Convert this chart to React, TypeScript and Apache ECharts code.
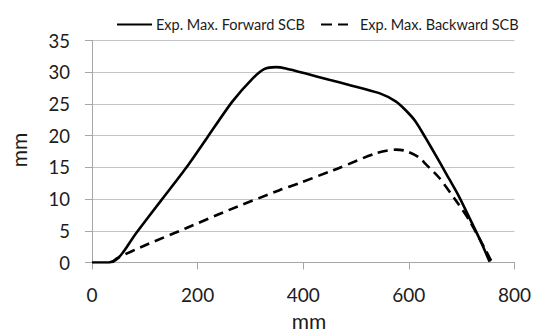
import { useEffect, useRef } from "react";
import * as echarts from "echarts";

// Forward SCB: lateral displacement (mm) along the specimen length (mm)
const forwardX = [0, 20, 32, 40, 48, 56, 64, 75, 87, 131, 178, 219, 266, 304, 326, 348, 367, 405, 449, 487, 544, 575, 594, 613, 632, 651, 670, 695, 726, 739, 753];
const forwardY = [0, 0, 0, 0.2, 0.6, 1.3, 2.2, 3.6, 5.0, 9.8, 14.9, 19.8, 25.4, 29.0, 30.5, 30.8, 30.6, 29.8, 28.8, 28.0, 26.7, 25.4, 24.0, 22.2, 19.6, 16.9, 14.1, 10.4, 5.1, 2.8, 0.1];

// Backward SCB
const backwardX = [38, 48, 103, 178, 260, 355, 392, 449, 468, 537, 575, 594, 619, 632, 657, 688, 714, 745, 755, 758];
const backwardY = [0, 0.7, 2.8, 5.4, 8.3, 11.4, 12.5, 14.3, 14.9, 17.2, 17.8, 17.6, 16.6, 15.5, 13.4, 9.9, 6.7, 2.0, 0.4, 0];

const seriesNames = ["Exp. Max. Forward SCB", "Exp. Max. Backward SCB"];
const xAxisTitle = "mm";
const yAxisTitle = "mm";

const FONT = "Lato, 'Open Sans', sans-serif";
const AXIS_GRAY = "#a6a6a6";
const GRID_GRAY = "#c4c4c4";
const TEXT = "#1c1c1c";

const pairs = (xs: number[], ys: number[]) => xs.map((x, i) => [x, ys[i]]);

export default function App() {
  const ref = useRef<HTMLDivElement>(null);

  useEffect(() => {
    const chart = echarts.init(ref.current!, null, { renderer: "svg" });
    chart.setOption({
      animation: false,
      backgroundColor: "#ffffff",
      grid: { left: 92, right: 18, top: 40.5, bottom: 68.5 },
      legend: {
        left: 111,
        top: 12,
        itemWidth: 35,
        itemHeight: 12,
        itemGap: 15,
        // line-only legend keys: hide the marker symbol
        itemStyle: { color: "rgba(0,0,0,0)", borderWidth: 0, opacity: 0 },
        textStyle: { fontFamily: FONT, fontSize: 14.5, color: TEXT, padding: [0, 0, 0, -1] },
        data: [
          { name: seriesNames[0] },
          { name: seriesNames[1], lineStyle: { type: [11, 6, 10, 40] } },
        ],
      },
      xAxis: {
        type: "value",
        min: 0,
        max: 800,
        interval: 200,
        axisLine: { show: true, lineStyle: { color: AXIS_GRAY, width: 1 } },
        axisTick: { show: true, length: 7, lineStyle: { color: AXIS_GRAY } },
        splitLine: { show: false },
        axisLabel: { fontFamily: FONT, fontSize: 19, color: TEXT, margin: 22 },
      },
      yAxis: {
        type: "value",
        min: 0,
        max: 35,
        interval: 5,
        axisLine: { show: true, lineStyle: { color: AXIS_GRAY, width: 1 } },
        axisTick: { show: true, length: 7, lineStyle: { color: AXIS_GRAY } },
        splitLine: { show: true, lineStyle: { color: GRID_GRAY, width: 1 } },
        axisLabel: { fontFamily: FONT, fontSize: 18.5, color: TEXT, margin: 22 },
      },
      series: [
        {
          name: seriesNames[0],
          type: "line",
          data: pairs(forwardX, forwardY),
          symbol: "none",
          smooth: 0.25,
          lineStyle: { color: "#000000", width: 2.6 },
          itemStyle: { color: "#000000" },
        },
        {
          name: seriesNames[1],
          type: "line",
          data: pairs(backwardX, backwardY),
          symbol: "none",
          smooth: 0.25,
          lineStyle: { color: "#000000", width: 2.6, type: [10, 6] },
          itemStyle: { color: "#000000" },
        },
      ],
      graphic: [
        {
          type: "text",
          x: 309,
          y: 320,
          style: {
            text: xAxisTitle,
            fontFamily: FONT,
            fontSize: 21,
            fill: TEXT,
            align: "center",
            verticalAlign: "middle",
          },
        },
        {
          type: "text",
          x: 18,
          y: 150,
          rotation: Math.PI / 2,
          style: {
            text: yAxisTitle,
            fontFamily: FONT,
            fontSize: 21,
            fill: TEXT,
            align: "center",
            verticalAlign: "middle",
          },
        },
      ],
    });
    return () => chart.dispose();
  }, []);

  return (
    <div
      ref={ref}
      style={{ position: "fixed", left: 0, top: 0, width: 534, height: 331, background: "#ffffff" }}
    />
  );
}
